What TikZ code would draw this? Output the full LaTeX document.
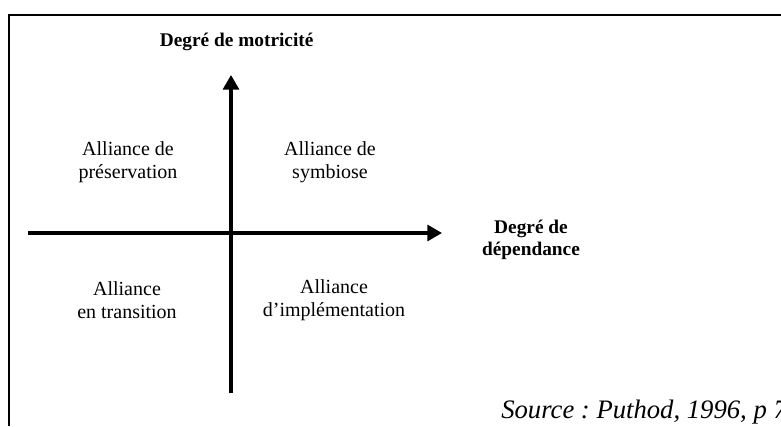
\documentclass[tikz,border=0pt]{standalone}
\usepackage{fontspec}
\setmainfont{Liberation Serif}
\usetikzlibrary{arrows.meta}
\frenchspacing

\begin{document}
\begin{tikzpicture}[x=75pt, y=75pt,
    quadrant/.style={align=center, inner sep=0pt, font=\fontsize{15}{17.5}\selectfont},
    axislabel/.style={align=center, inner sep=0pt, font=\fontsize{14.5}{16.5}\selectfont\bfseries},
    axis/.style={line width=2.4pt, -{Triangle[length=11pt, width=12pt]}}]
    \useasboundingbox (0,0) rectangle (7.81,4.26);

    % Cadre
    \draw[line width=1.6pt] (0.09,0) -- (0.09,4.11) -- (7.81,4.11);

    % Axes
    \coordinate (hstart) at (0.28,1.93);
    \coordinate (hend) at (4.42,1.93);
    \coordinate (vstart) at (2.31,0.33);
    \coordinate (vend) at (2.31,3.51);
    \draw[axis] (hstart) -- (hend);
    \draw[axis] (vstart) -- (vend);

    % Libellés des axes
    \node[axislabel, anchor=base] (motricite) at (2.367,3.793) {Degré de motricité};
    \node[axislabel] (dependance) at (5.31,1.865) {Degré de\\dépendance};

    % Quadrants
    \node[quadrant] (preservation) at (1.28,2.64) {Alliance de\\préservation};
    \node[quadrant] (symbiose) at (3.30,2.64) {Alliance de\\symbiose};
    \node[quadrant] (transition) at (1.27,1.26) {Alliance\\en transition};
    \node[quadrant] (implementation) at (3.34,1.26) {Alliance\\d’implémentation};

    % Source
    \node[anchor=base west, inner sep=0pt, font=\fontsize{20}{22}\selectfont\itshape] (source) at (5.01,0.08) {Source : Puthod, 1996, p 7};
\end{tikzpicture}
\end{document}
